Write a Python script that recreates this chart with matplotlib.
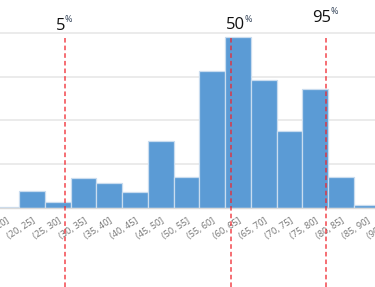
import matplotlib
matplotlib.use("Agg")
import matplotlib.pyplot as plt
import matplotlib.transforms as mtransforms

# histogram bins (percent of total) and percentile markers
bin_lows = [15, 20, 25, 30, 35, 40, 45, 50, 55, 60, 65, 70, 75, 80, 85, 90]
bin_labels = ["(%d, %d]" % (lo, lo + 5) for lo in bin_lows]
shares = [0.15, 1.9, 0.65, 3.4, 2.85, 1.85, 7.7, 3.55, 15.7, 19.55, 14.65, 8.8, 13.6, 3.6, 0.3, 0.3]
pct_names = ["5", "50", "95"]
pct_values = [28.9, 61.2, 79.6]

plt.rcParams["font.family"] = ["Open Sans", "DejaVu Sans"]

W, H = 375, 287
fig = plt.figure(figsize=(W / 100, H / 100), dpi=100)

# axes wider than the figure, the picture is a crop of a larger chart
px_per_unit = 25.73 / 5
x0, x1 = 14, 96
left_px = 19.3 + (x0 - 20) * px_per_unit
right_px = 19.3 + (x1 - 20) * px_per_unit
base_px, top_px = 208, 33
ax = fig.add_axes([left_px / W, (H - base_px) / H,
                   (right_px - left_px) / W, (base_px - top_px) / H])

ax.bar(bin_lows, shares, width=5, align="edge", color="#5b9bd5",
       edgecolor="#c9dcef", linewidth=0.9, zorder=2)

ax.set_xlim(x0, x1)
ax.set_ylim(0, 20)
ax.set_yticks([0, 5, 10, 15, 20])
ax.set_yticklabels([])
ax.yaxis.grid(True, color="#ebebeb", linewidth=1.4, zorder=0)
for gl in ax.yaxis.get_gridlines():
    gl.set_clip_on(False)
ax.tick_params(axis="y", length=0)

ax.set_xticks([lo + 2.5 for lo in bin_lows])
ax.set_xticklabels(bin_labels, rotation=33, ha="right", rotation_mode="anchor",
                   fontsize=6.6, color="#737373")
ax.tick_params(axis="x", length=0, pad=6)

for s in ["top", "right", "left"]:
    ax.spines[s].set_visible(False)
ax.spines["bottom"].set_color("#d9d9d9")
ax.spines["bottom"].set_linewidth(1.0)

# percentile lines run from just under the top grid line to the bottom of the image
ymax = (base_px - 38) / (base_px - top_px)
ymin = -(H - base_px) / (base_px - top_px)
for v in pct_values:
    ax.axvline(v, ymin=ymin, ymax=ymax, color="#f0262e", alpha=0.85,
               linewidth=1.1, linestyle=(0, (3, 2)), clip_on=False, zorder=3)

# percentile labels
trans = mtransforms.blended_transform_factory(ax.transData, fig.transFigure)
label_dx = [0, 14, 5]      # px right of the line where the number ends
label_base = [30, 29, 22]  # baseline, px from the top
for name, v, dx, yb in zip(pct_names, pct_values, label_dx, label_base):
    ax.annotate(name, xy=(v, 1 - yb / H), xycoords=trans,
                xytext=(dx * 0.72, 0), textcoords="offset points",
                ha="right", va="baseline", fontsize=12, color="#111111")
    ax.annotate("%", xy=(v, 1 - yb / H), xycoords=trans,
                xytext=(dx * 0.72 - 0.6, 5.4), textcoords="offset points",
                ha="left", va="baseline", fontsize=6.5, color="#2f3f55")

fig.savefig("out.png", dpi=100)
